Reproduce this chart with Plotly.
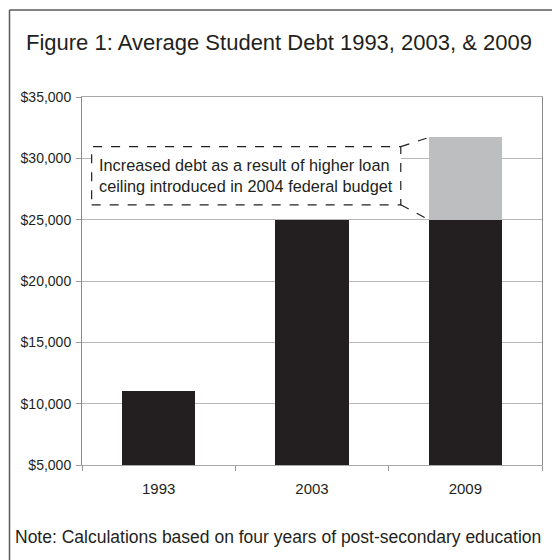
import plotly.graph_objects as go

years = ["1993", "2003", "2009"]
base_debt = [11000, 25000, 25000]
extra_debt = [0, 0, 6700]
y_ticks = [5000, 10000, 15000, 20000, 25000, 30000, 35000]
y_tick_labels = ["$" + f"{v:,}" for v in y_ticks]

title_text = "Figure 1: Average Student Debt 1993, 2003, &amp; 2009"
note_text = "Note: Calculations based on four years of post-secondary education"
box_lines = ["Increased debt as a result of higher loan",
             "ceiling introduced in 2004 federal budget"]

W, H = 552, 560
L, R, T, B = 82, 10, 97, 94.5
PW, PH = W - L - R, H - T - B
FONT = "Liberation Sans, Arial, sans-serif"
TXT = "#231f20"
BAR_W = 0.478

def pxx(px):
    return (px - L) / PW

def pyy(py):
    return (H - B - py) / PH

fig = go.Figure()
fig.add_trace(go.Bar(x=years, y=base_debt, marker=dict(color="#231f20", line=dict(width=0)),
                     width=BAR_W, showlegend=False, hoverinfo="y"))
fig.add_trace(go.Bar(x=years, y=extra_debt, marker=dict(color="#bcbec0", line=dict(width=0)),
                     width=BAR_W, showlegend=False, hoverinfo="y"))

total_2009 = base_debt[2] + extra_debt[2]
bar_left = 2 - BAR_W / 2
box_x0, box_x1 = -0.437, 1.579
box_y0, box_y1 = 26212, 30956

shapes = [
    dict(type="line", xref="paper", yref="paper", x0=pxx(9.5), x1=pxx(560), y0=pyy(10), y1=pyy(10),
         line=dict(color="#5a5a5a", width=1.5)),
    dict(type="line", xref="paper", yref="paper", x0=pxx(9.5), x1=pxx(9.5), y0=pyy(10), y1=pyy(570),
         line=dict(color="#5a5a5a", width=1.5)),
    dict(type="rect", xref="x", yref="y", x0=box_x0, x1=box_x1, y0=box_y0, y1=box_y1,
         line=dict(color="#231f20", width=1.2, dash="dash"), fillcolor="white"),
    dict(type="line", xref="x", yref="y", x0=box_x1, x1=bar_left, y0=box_y1, y1=total_2009,
         line=dict(color="#231f20", width=1.2, dash="dash")),
    dict(type="line", xref="x", yref="y", x0=box_x1, x1=bar_left, y0=box_y0, y1=base_debt[2],
         line=dict(color="#231f20", width=1.2, dash="dash")),
]

annotations = [
    dict(text="<br>".join(box_lines), xref="x", yref="y", x=box_x0 + 0.035, y=(box_y0 + box_y1) / 2,
         xanchor="left", yanchor="middle", align="left", showarrow=False,
         font=dict(family=FONT, size=16.3, color=TXT)),
    dict(text=note_text, xref="paper", yref="paper", x=pxx(13), y=pyy(538), xanchor="left",
         yanchor="middle", showarrow=False, font=dict(family=FONT, size=17.5, color=TXT)),
]

fig.update_layout(
    width=W, height=H,
    margin=dict(l=L, r=R, t=T, b=B, pad=0),
    paper_bgcolor="white", plot_bgcolor="white",
    barmode="stack",
    title=dict(text=title_text, x=26 / W, xanchor="left", xref="container",
               y=1 - 42 / H, yanchor="middle", yref="container",
               font=dict(family=FONT, size=22, color=TXT)),
    shapes=shapes, annotations=annotations,
    xaxis=dict(type="category", categoryorder="array", categoryarray=years,
               range=[-0.5, 2.5], tickson="boundaries", ticks="outside", ticklen=5,
               tickcolor="#9a9a9a", showline=True, linecolor="#a8a8a8", linewidth=1,
               mirror=True, showgrid=False, ticklabelstandoff=10,
               tickfont=dict(family=FONT, size=15, color=TXT)),
    yaxis=dict(range=[5000, 35000], tickvals=y_ticks, ticktext=y_tick_labels,
               ticks="outside", ticklen=5, tickcolor="#9a9a9a", showline=True,
               linecolor="#8a8a8a", linewidth=1, mirror=True, showgrid=True,
               gridcolor="#b8b8b8", gridwidth=1, zeroline=False, ticklabelstandoff=2,
               tickfont=dict(family=FONT, size=14, color=TXT)),
)

fig.write_html("out.html")
